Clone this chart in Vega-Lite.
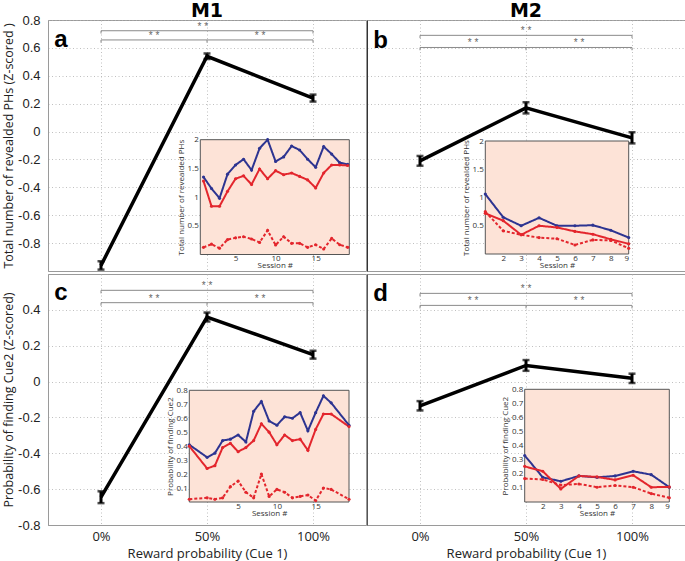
{
  "$schema": "https://vega.github.io/schema/vega-lite/v6.json",
  "padding": {"left": 2, "top": 1, "right": 0, "bottom": 0},
  "spacing": 0,
  "config": {
    "view": {"stroke": "#9a9a9a", "strokeWidth": 1},
    "axis": {"gridColor": "#b0b0b0", "gridDash": [1, 2.5], "gridWidth": 0.8, "domainColor": "#9a9a9a", "labelColor": "#222", "titleColor": "#222", "titleFontWeight": "normal", "labelOverlap": false, "minExtent": 0, "tickCount": 30}
  },
  "datasets": {
    "main": [
      {"panel": "a", "pct": 0, "val": -0.96, "err": 0.03},
      {"panel": "a", "pct": 50, "val": 0.54, "err": 0.02},
      {"panel": "a", "pct": 100, "val": 0.24, "err": 0.025},
      {"panel": "b", "pct": 0, "val": -0.21, "err": 0.035},
      {"panel": "b", "pct": 50, "val": 0.17, "err": 0.04},
      {"panel": "b", "pct": 100, "val": -0.045, "err": 0.04},
      {"panel": "c", "pct": 0, "val": -0.645, "err": 0.033},
      {"panel": "c", "pct": 50, "val": 0.36, "err": 0.025},
      {"panel": "c", "pct": 100, "val": 0.15, "err": 0.022},
      {"panel": "d", "pct": 0, "val": -0.135, "err": 0.026},
      {"panel": "d", "pct": 50, "val": 0.09, "err": 0.03},
      {"panel": "d", "pct": 100, "val": 0.018, "err": 0.026}
    ],
    "brackets": [
      {"panel": "a", "x1": 0, "x2": 100, "y": 0.723, "lx": 48, "lab": "* *"},
      {"panel": "a", "x1": 0, "x2": 50, "y": 0.657, "lx": 25, "lab": "* *"},
      {"panel": "a", "x1": 50, "x2": 100, "y": 0.657, "lx": 75, "lab": "* *"},
      {"panel": "b", "x1": 0, "x2": 100, "y": 0.69, "lx": 50, "lab": "* *"},
      {"panel": "b", "x1": 0, "x2": 50, "y": 0.603, "lx": 25, "lab": "* *"},
      {"panel": "b", "x1": 50, "x2": 100, "y": 0.603, "lx": 75, "lab": "* *"},
      {"panel": "c", "x1": 0, "x2": 100, "y": 0.509, "lx": 50, "lab": "* *"},
      {"panel": "c", "x1": 0, "x2": 50, "y": 0.44, "lx": 25, "lab": "* *"},
      {"panel": "c", "x1": 50, "x2": 100, "y": 0.44, "lx": 75, "lab": "* *"},
      {"panel": "d", "x1": 0, "x2": 100, "y": 0.492, "lx": 50, "lab": "* *"},
      {"panel": "d", "x1": 0, "x2": 50, "y": 0.425, "lx": 25, "lab": "* *"},
      {"panel": "d", "x1": 50, "x2": 100, "y": 0.425, "lx": 75, "lab": "* *"}
    ],
    "bticks": [
      {"panel": "a", "x": 0, "y": 0.723, "y2": 0.703},
      {"panel": "a", "x": 100, "y": 0.723, "y2": 0.703},
      {"panel": "a", "x": 0, "y": 0.657, "y2": 0.637},
      {"panel": "a", "x": 50, "y": 0.657, "y2": 0.637},
      {"panel": "a", "x": 100, "y": 0.657, "y2": 0.637},
      {"panel": "b", "x": 0, "y": 0.69, "y2": 0.67},
      {"panel": "b", "x": 100, "y": 0.69, "y2": 0.67},
      {"panel": "b", "x": 0, "y": 0.603, "y2": 0.583},
      {"panel": "b", "x": 50, "y": 0.603, "y2": 0.583},
      {"panel": "b", "x": 100, "y": 0.603, "y2": 0.583},
      {"panel": "c", "x": 0, "y": 0.509, "y2": 0.492},
      {"panel": "c", "x": 100, "y": 0.509, "y2": 0.492},
      {"panel": "c", "x": 0, "y": 0.44, "y2": 0.423},
      {"panel": "c", "x": 50, "y": 0.44, "y2": 0.423},
      {"panel": "c", "x": 100, "y": 0.44, "y2": 0.423},
      {"panel": "d", "x": 0, "y": 0.492, "y2": 0.475},
      {"panel": "d", "x": 100, "y": 0.492, "y2": 0.475},
      {"panel": "d", "x": 0, "y": 0.425, "y2": 0.408},
      {"panel": "d", "x": 50, "y": 0.425, "y2": 0.408},
      {"panel": "d", "x": 100, "y": 0.425, "y2": 0.408}
    ],
    "labels": [
      {"panel": "a", "kind": "letter", "x": -22, "y": 0.605, "txt": "a"},
      {"panel": "b", "kind": "letter", "x": -22, "y": 0.6, "txt": "b"},
      {"panel": "c", "kind": "letter", "x": -22, "y": 0.453, "txt": "c"},
      {"panel": "d", "kind": "letter", "x": -22, "y": 0.447, "txt": "d"},
      {"panel": "a", "kind": "title", "x": 50, "y": 0.819, "txt": "M1"},
      {"panel": "b", "kind": "title", "x": 50, "y": 0.819, "txt": "M2"}
    ],
    "insets": [
      {"panel": "a", "series": "blue", "s": 1, "v": 1.35}, {"panel": "a", "series": "blue", "s": 2, "v": 1.15}, {"panel": "a", "series": "blue", "s": 3, "v": 0.98}, {"panel": "a", "series": "blue", "s": 4, "v": 1.4}, {"panel": "a", "series": "blue", "s": 5, "v": 1.56}, {"panel": "a", "series": "blue", "s": 6, "v": 1.66}, {"panel": "a", "series": "blue", "s": 7, "v": 1.47}, {"panel": "a", "series": "blue", "s": 8, "v": 1.85}, {"panel": "a", "series": "blue", "s": 9, "v": 2.0}, {"panel": "a", "series": "blue", "s": 10, "v": 1.62}, {"panel": "a", "series": "blue", "s": 11, "v": 1.7}, {"panel": "a", "series": "blue", "s": 12, "v": 1.89}, {"panel": "a", "series": "blue", "s": 13, "v": 1.82}, {"panel": "a", "series": "blue", "s": 14, "v": 1.66}, {"panel": "a", "series": "blue", "s": 15, "v": 1.52}, {"panel": "a", "series": "blue", "s": 16, "v": 1.88}, {"panel": "a", "series": "blue", "s": 17, "v": 1.75}, {"panel": "a", "series": "blue", "s": 18, "v": 1.6}, {"panel": "a", "series": "blue", "s": 19, "v": 1.57},
      {"panel": "a", "series": "red", "s": 1, "v": 1.28}, {"panel": "a", "series": "red", "s": 2, "v": 0.84}, {"panel": "a", "series": "red", "s": 3, "v": 0.84}, {"panel": "a", "series": "red", "s": 4, "v": 1.1}, {"panel": "a", "series": "red", "s": 5, "v": 1.32}, {"panel": "a", "series": "red", "s": 6, "v": 1.37}, {"panel": "a", "series": "red", "s": 7, "v": 1.22}, {"panel": "a", "series": "red", "s": 8, "v": 1.49}, {"panel": "a", "series": "red", "s": 9, "v": 1.32}, {"panel": "a", "series": "red", "s": 10, "v": 1.46}, {"panel": "a", "series": "red", "s": 11, "v": 1.39}, {"panel": "a", "series": "red", "s": 12, "v": 1.42}, {"panel": "a", "series": "red", "s": 13, "v": 1.36}, {"panel": "a", "series": "red", "s": 14, "v": 1.3}, {"panel": "a", "series": "red", "s": 15, "v": 1.16}, {"panel": "a", "series": "red", "s": 16, "v": 1.42}, {"panel": "a", "series": "red", "s": 17, "v": 1.56}, {"panel": "a", "series": "red", "s": 18, "v": 1.56}, {"panel": "a", "series": "red", "s": 19, "v": 1.55},
      {"panel": "a", "series": "dot", "s": 1, "v": 0.125}, {"panel": "a", "series": "dot", "s": 2, "v": 0.18}, {"panel": "a", "series": "dot", "s": 3, "v": 0.11}, {"panel": "a", "series": "dot", "s": 4, "v": 0.26}, {"panel": "a", "series": "dot", "s": 5, "v": 0.29}, {"panel": "a", "series": "dot", "s": 6, "v": 0.31}, {"panel": "a", "series": "dot", "s": 7, "v": 0.27}, {"panel": "a", "series": "dot", "s": 8, "v": 0.21}, {"panel": "a", "series": "dot", "s": 9, "v": 0.42}, {"panel": "a", "series": "dot", "s": 10, "v": 0.165}, {"panel": "a", "series": "dot", "s": 11, "v": 0.31}, {"panel": "a", "series": "dot", "s": 12, "v": 0.195}, {"panel": "a", "series": "dot", "s": 13, "v": 0.195}, {"panel": "a", "series": "dot", "s": 14, "v": 0.125}, {"panel": "a", "series": "dot", "s": 15, "v": 0.17}, {"panel": "a", "series": "dot", "s": 16, "v": 0.096}, {"panel": "a", "series": "dot", "s": 17, "v": 0.28}, {"panel": "a", "series": "dot", "s": 18, "v": 0.17}, {"panel": "a", "series": "dot", "s": 19, "v": 0.125},
      {"panel": "b", "series": "blue", "s": 1, "v": 1.06}, {"panel": "b", "series": "blue", "s": 2, "v": 0.65}, {"panel": "b", "series": "blue", "s": 3, "v": 0.5}, {"panel": "b", "series": "blue", "s": 4, "v": 0.64}, {"panel": "b", "series": "blue", "s": 5, "v": 0.5}, {"panel": "b", "series": "blue", "s": 6, "v": 0.5}, {"panel": "b", "series": "blue", "s": 7, "v": 0.51}, {"panel": "b", "series": "blue", "s": 8, "v": 0.42}, {"panel": "b", "series": "blue", "s": 9, "v": 0.29},
      {"panel": "b", "series": "red", "s": 1, "v": 0.72}, {"panel": "b", "series": "red", "s": 2, "v": 0.59}, {"panel": "b", "series": "red", "s": 3, "v": 0.34}, {"panel": "b", "series": "red", "s": 4, "v": 0.5}, {"panel": "b", "series": "red", "s": 5, "v": 0.47}, {"panel": "b", "series": "red", "s": 6, "v": 0.4}, {"panel": "b", "series": "red", "s": 7, "v": 0.35}, {"panel": "b", "series": "red", "s": 8, "v": 0.26}, {"panel": "b", "series": "red", "s": 9, "v": 0.18},
      {"panel": "b", "series": "dot", "s": 1, "v": 0.75}, {"panel": "b", "series": "dot", "s": 2, "v": 0.41}, {"panel": "b", "series": "dot", "s": 3, "v": 0.34}, {"panel": "b", "series": "dot", "s": 4, "v": 0.29}, {"panel": "b", "series": "dot", "s": 5, "v": 0.27}, {"panel": "b", "series": "dot", "s": 6, "v": 0.16}, {"panel": "b", "series": "dot", "s": 7, "v": 0.25}, {"panel": "b", "series": "dot", "s": 8, "v": 0.24}, {"panel": "b", "series": "dot", "s": 9, "v": 0.1},
      {"panel": "c", "series": "blue", "s": -1.3, "v": 0.41}, {"panel": "c", "series": "blue", "s": 1, "v": 0.32}, {"panel": "c", "series": "blue", "s": 2, "v": 0.35}, {"panel": "c", "series": "blue", "s": 3, "v": 0.44}, {"panel": "c", "series": "blue", "s": 4, "v": 0.45}, {"panel": "c", "series": "blue", "s": 5, "v": 0.48}, {"panel": "c", "series": "blue", "s": 6, "v": 0.43}, {"panel": "c", "series": "blue", "s": 7, "v": 0.65}, {"panel": "c", "series": "blue", "s": 8, "v": 0.72}, {"panel": "c", "series": "blue", "s": 9, "v": 0.58}, {"panel": "c", "series": "blue", "s": 10, "v": 0.55}, {"panel": "c", "series": "blue", "s": 11, "v": 0.61}, {"panel": "c", "series": "blue", "s": 12, "v": 0.6}, {"panel": "c", "series": "blue", "s": 13, "v": 0.64}, {"panel": "c", "series": "blue", "s": 14, "v": 0.51}, {"panel": "c", "series": "blue", "s": 15, "v": 0.64}, {"panel": "c", "series": "blue", "s": 16, "v": 0.76}, {"panel": "c", "series": "blue", "s": 17, "v": 0.71}, {"panel": "c", "series": "blue", "s": 19.3, "v": 0.55},
      {"panel": "c", "series": "red", "s": -1.3, "v": 0.4}, {"panel": "c", "series": "red", "s": 1, "v": 0.24}, {"panel": "c", "series": "red", "s": 2, "v": 0.26}, {"panel": "c", "series": "red", "s": 3, "v": 0.39}, {"panel": "c", "series": "red", "s": 4, "v": 0.42}, {"panel": "c", "series": "red", "s": 5, "v": 0.36}, {"panel": "c", "series": "red", "s": 6, "v": 0.39}, {"panel": "c", "series": "red", "s": 7, "v": 0.44}, {"panel": "c", "series": "red", "s": 8, "v": 0.56}, {"panel": "c", "series": "red", "s": 9, "v": 0.5}, {"panel": "c", "series": "red", "s": 10, "v": 0.41}, {"panel": "c", "series": "red", "s": 11, "v": 0.48}, {"panel": "c", "series": "red", "s": 12, "v": 0.44}, {"panel": "c", "series": "red", "s": 13, "v": 0.45}, {"panel": "c", "series": "red", "s": 14, "v": 0.37}, {"panel": "c", "series": "red", "s": 15, "v": 0.52}, {"panel": "c", "series": "red", "s": 16, "v": 0.63}, {"panel": "c", "series": "red", "s": 17, "v": 0.63}, {"panel": "c", "series": "red", "s": 19.3, "v": 0.54},
      {"panel": "c", "series": "dot", "s": -1.3, "v": 0.02}, {"panel": "c", "series": "dot", "s": 1, "v": 0.03}, {"panel": "c", "series": "dot", "s": 2, "v": 0.02}, {"panel": "c", "series": "dot", "s": 3, "v": 0.03}, {"panel": "c", "series": "dot", "s": 4, "v": 0.11}, {"panel": "c", "series": "dot", "s": 5, "v": 0.15}, {"panel": "c", "series": "dot", "s": 6, "v": 0.07}, {"panel": "c", "series": "dot", "s": 7, "v": 0.03}, {"panel": "c", "series": "dot", "s": 8, "v": 0.2}, {"panel": "c", "series": "dot", "s": 9, "v": 0.04}, {"panel": "c", "series": "dot", "s": 10, "v": 0.09}, {"panel": "c", "series": "dot", "s": 11, "v": 0.07}, {"panel": "c", "series": "dot", "s": 12, "v": 0.03}, {"panel": "c", "series": "dot", "s": 13, "v": 0.04}, {"panel": "c", "series": "dot", "s": 14, "v": 0.05}, {"panel": "c", "series": "dot", "s": 15, "v": 0.01}, {"panel": "c", "series": "dot", "s": 16, "v": 0.1}, {"panel": "c", "series": "dot", "s": 17, "v": 0.09}, {"panel": "c", "series": "dot", "s": 19.3, "v": 0.02},
      {"panel": "d", "series": "blue", "s": 1, "v": 0.33}, {"panel": "d", "series": "blue", "s": 2, "v": 0.175}, {"panel": "d", "series": "blue", "s": 3, "v": 0.147}, {"panel": "d", "series": "blue", "s": 4, "v": 0.185}, {"panel": "d", "series": "blue", "s": 5, "v": 0.175}, {"panel": "d", "series": "blue", "s": 6, "v": 0.185}, {"panel": "d", "series": "blue", "s": 7, "v": 0.218}, {"panel": "d", "series": "blue", "s": 8, "v": 0.194}, {"panel": "d", "series": "blue", "s": 9, "v": 0.105},
      {"panel": "d", "series": "red", "s": 1, "v": 0.253}, {"panel": "d", "series": "red", "s": 2, "v": 0.218}, {"panel": "d", "series": "red", "s": 3, "v": 0.093}, {"panel": "d", "series": "red", "s": 4, "v": 0.185}, {"panel": "d", "series": "red", "s": 5, "v": 0.178}, {"panel": "d", "series": "red", "s": 6, "v": 0.157}, {"panel": "d", "series": "red", "s": 7, "v": 0.19}, {"panel": "d", "series": "red", "s": 8, "v": 0.105}, {"panel": "d", "series": "red", "s": 9, "v": 0.107},
      {"panel": "d", "series": "dot", "s": 1, "v": 0.166}, {"panel": "d", "series": "dot", "s": 2, "v": 0.16}, {"panel": "d", "series": "dot", "s": 3, "v": 0.12}, {"panel": "d", "series": "dot", "s": 4, "v": 0.128}, {"panel": "d", "series": "dot", "s": 5, "v": 0.105}, {"panel": "d", "series": "dot", "s": 6, "v": 0.117}, {"panel": "d", "series": "dot", "s": 7, "v": 0.105}, {"panel": "d", "series": "dot", "s": 8, "v": 0.06}, {"panel": "d", "series": "dot", "s": 9, "v": 0.03}
    ]
  },
  "vconcat": [
    {
      "spacing": -3,
      "hconcat": [
        {
          "width": 318, "height": 251,
          "resolve": {"scale": {"x": "independent", "y": "independent"}, "axis": {"x": "independent", "y": "independent"}},
          "layer": [
            {
              "layer": [
                {"data": {"name": "main"}, "transform": [{"filter": "datum.panel == 'a'"}],
                 "mark": {"type": "line", "color": "black", "strokeWidth": 3.5},
                 "encoding": {
                   "x": {"field": "pct", "type": "quantitative", "scale": {"domain": [-25, 125], "nice": false, "zero": false},
                         "axis": {"values": [0, 50, 100], "tickCount": 30, "labels": false, "ticks": false, "domain": false, "title": null, "grid": true, "minExtent": 0}},
                   "y": {"field": "val", "type": "quantitative", "title": "Total number of revealded PHs (Z-scored )", "scale": {"domain": [-1, 0.8], "nice": false, "zero": false},
                         "axis": {"values": [-0.8, -0.6, -0.4, -0.2, 0, 0.2, 0.4, 0.6, 0.8], "tickCount": 30, "labelOverlap": false, "labelExpr": "datum.value == 0 ? '0' : (datum.value < 0 ? '-' : '') + format(abs(datum.value), '.1f')", "labelFont": "Liberation Sans", "labelFontSize": 13, "labelPadding": 8, "ticks": false, "titleFont": "Open Sans", "titleFontSize": 12.5, "titlePadding": 2, "grid": true, "minExtent": 0}}
                 }},
                {"data": {"name": "main"}, "transform": [{"filter": "datum.panel == 'a'"}],
                 "mark": {"type": "errorbar", "color": "black", "thickness": 3, "ticks": {"size": 7, "thickness": 2.5, "color": "black"}},
                 "encoding": {"x": {"field": "pct", "type": "quantitative"}, "y": {"field": "val", "type": "quantitative", "title": "Total number of revealded PHs (Z-scored )"}, "yError": {"field": "err"}}},
                {"data": {"name": "brackets"}, "transform": [{"filter": "datum.panel == 'a'"}],
                 "mark": {"type": "rule", "color": "#8a8a8a", "strokeWidth": 1},
                 "encoding": {"x": {"field": "x1", "type": "quantitative"}, "x2": {"field": "x2"}, "y": {"field": "y", "type": "quantitative"}}},
                {"data": {"name": "bticks"}, "transform": [{"filter": "datum.panel == 'a'"}],
                 "mark": {"type": "rule", "color": "#8a8a8a", "strokeWidth": 1},
                 "encoding": {"x": {"field": "x", "type": "quantitative"}, "y": {"field": "y", "type": "quantitative"}, "y2": {"field": "y2"}}},
                {"data": {"name": "brackets"}, "transform": [{"filter": "datum.panel == 'a'"}],
                 "mark": {"type": "text", "color": "#666", "fontSize": 10, "baseline": "bottom", "dy": 1, "font": "Liberation Sans"},
                 "encoding": {"x": {"field": "lx", "type": "quantitative"}, "y": {"field": "y", "type": "quantitative"}, "text": {"field": "lab"}}},
                {"data": {"name": "labels"}, "transform": [{"filter": "datum.panel == 'a' && datum.kind == 'letter'"}],
                 "mark": {"type": "text", "fontSize": 24, "fontWeight": "bold", "font": "Liberation Sans", "align": "left", "baseline": "alphabetic", "color": "black"},
                 "encoding": {"x": {"field": "x", "type": "quantitative"}, "y": {"field": "y", "type": "quantitative"}, "text": {"field": "txt"}}},
                {"data": {"name": "labels"}, "transform": [{"filter": "datum.panel == 'a' && datum.kind == 'title'"}],
                 "mark": {"type": "text", "fontSize": 19, "fontWeight": "bold", "font": "DejaVu Sans", "align": "center", "baseline": "alphabetic", "color": "black"},
                 "encoding": {"x": {"field": "x", "type": "quantitative"}, "y": {"field": "y", "type": "quantitative"}, "text": {"field": "txt"}}}
              ]
            },
            {
              "layer": [
                {"data": {"values": [{}]},
                 "mark": {"type": "rect", "fill": "#fde3d7", "stroke": "#555", "strokeWidth": 1},
                 "encoding": {
                   "x": {"datum": 0.6, "type": "quantitative", "scale": {"domain": [0.6, 19.2], "range": [152.3, 301.3], "nice": false, "zero": false},
                         "axis": {"orient": "bottom", "offset": -16.5, "values": [5, 10, 15], "tickCount": 30, "labelExpr": "format(datum.value, '~g')", "labelFont": "Open Sans", "labelFontSize": 8, "labelColor": "#333", "labelPadding": 0, "ticks": false, "domain": false, "grid": false, "title": "Session #", "titleFont": "Open Sans", "titleFontSize": 8, "titleColor": "#333", "titlePadding": -1, "zindex": 1, "minExtent": 0}},
                   "x2": {"datum": 19.2},
                   "y": {"datum": 0, "type": "quantitative", "scale": {"domain": [0, 2], "range": [234.5, 119.7], "nice": false, "zero": false},
                         "axis": {"orient": "left", "offset": -152.3, "values": [0.5, 1, 1.5, 2], "tickCount": 30, "labelExpr": "format(datum.value, '~g')", "labelFont": "Open Sans", "labelFontSize": 8, "labelColor": "#333", "labelPadding": 2, "ticks": false, "domain": false, "grid": false, "title": "Total number of revealded PHs", "titleFont": "Open Sans", "titleFontSize": 8, "titleColor": "#333", "titlePadding": 2, "zindex": 1, "minExtent": 0}},
                   "y2": {"datum": 2}
                 }},
                {"data": {"name": "insets"}, "transform": [{"filter": "datum.panel == 'a'"}],
                 "mark": {"type": "line", "strokeWidth": 2, "point": {"filled": true, "size": 10}},
                 "encoding": {
                   "x": {"field": "s", "type": "quantitative"},
                   "y": {"field": "v", "type": "quantitative"},
                   "color": {"field": "series", "type": "nominal", "scale": {"domain": ["blue", "red", "dot"], "range": ["#2d3491", "#e3262d", "#e3262d"]}, "legend": null},
                   "strokeDash": {"field": "series", "type": "nominal", "scale": {"domain": ["blue", "red", "dot"], "range": [[1, 0], [1, 0], [3, 2]]}, "legend": null}
                 }}
              ]
            }
          ]
        },
        {
          "width": 318, "height": 251,
          "resolve": {"scale": {"x": "independent", "y": "independent"}, "axis": {"x": "independent", "y": "independent"}},
          "layer": [
            {
              "layer": [
                {"data": {"name": "main"}, "transform": [{"filter": "datum.panel == 'b'"}],
                 "mark": {"type": "line", "color": "black", "strokeWidth": 3.5},
                 "encoding": {
                   "x": {"field": "pct", "type": "quantitative", "scale": {"domain": [-25, 125], "nice": false, "zero": false},
                         "axis": {"values": [0, 50, 100], "tickCount": 30, "labels": false, "ticks": false, "domain": false, "title": null, "grid": true, "minExtent": 0}},
                   "y": {"field": "val", "type": "quantitative", "scale": {"domain": [-1, 0.8], "nice": false, "zero": false},
                         "axis": {"values": [-0.8, -0.6, -0.4, -0.2, 0, 0.2, 0.4, 0.6, 0.8], "tickCount": 30, "labels": false, "ticks": false, "title": null, "domain": true, "domainColor": "#333", "grid": true, "minExtent": 0}}
                 }},
                {"data": {"name": "main"}, "transform": [{"filter": "datum.panel == 'b'"}],
                 "mark": {"type": "errorbar", "color": "black", "thickness": 3, "ticks": {"size": 7, "thickness": 2.5, "color": "black"}},
                 "encoding": {"x": {"field": "pct", "type": "quantitative"}, "y": {"field": "val", "type": "quantitative"}, "yError": {"field": "err"}}},
                {"data": {"name": "brackets"}, "transform": [{"filter": "datum.panel == 'b'"}],
                 "mark": {"type": "rule", "color": "#8a8a8a", "strokeWidth": 1},
                 "encoding": {"x": {"field": "x1", "type": "quantitative"}, "x2": {"field": "x2"}, "y": {"field": "y", "type": "quantitative"}}},
                {"data": {"name": "bticks"}, "transform": [{"filter": "datum.panel == 'b'"}],
                 "mark": {"type": "rule", "color": "#8a8a8a", "strokeWidth": 1},
                 "encoding": {"x": {"field": "x", "type": "quantitative"}, "y": {"field": "y", "type": "quantitative"}, "y2": {"field": "y2"}}},
                {"data": {"name": "brackets"}, "transform": [{"filter": "datum.panel == 'b'"}],
                 "mark": {"type": "text", "color": "#666", "fontSize": 10, "baseline": "bottom", "dy": 1, "font": "Liberation Sans"},
                 "encoding": {"x": {"field": "lx", "type": "quantitative"}, "y": {"field": "y", "type": "quantitative"}, "text": {"field": "lab"}}},
                {"data": {"name": "labels"}, "transform": [{"filter": "datum.panel == 'b' && datum.kind == 'letter'"}],
                 "mark": {"type": "text", "fontSize": 24, "fontWeight": "bold", "font": "Liberation Sans", "align": "left", "baseline": "alphabetic", "color": "black"},
                 "encoding": {"x": {"field": "x", "type": "quantitative"}, "y": {"field": "y", "type": "quantitative"}, "text": {"field": "txt"}}},
                {"data": {"name": "labels"}, "transform": [{"filter": "datum.panel == 'b' && datum.kind == 'title'"}],
                 "mark": {"type": "text", "fontSize": 19, "fontWeight": "bold", "font": "DejaVu Sans", "align": "center", "baseline": "alphabetic", "color": "black"},
                 "encoding": {"x": {"field": "x", "type": "quantitative"}, "y": {"field": "y", "type": "quantitative"}, "text": {"field": "txt"}}}
              ]
            },
            {
              "layer": [
                {"data": {"values": [{}]},
                 "mark": {"type": "rect", "fill": "#fde3d7", "stroke": "#555", "strokeWidth": 1},
                 "encoding": {
                   "x": {"datum": 1, "type": "quantitative", "scale": {"domain": [1, 9], "range": [118.3, 261.7], "nice": false, "zero": false},
                         "axis": {"orient": "bottom", "offset": -17, "values": [2, 3, 4, 5, 6, 7, 8, 9], "tickCount": 30, "labelExpr": "format(datum.value, '~g')", "labelFont": "Open Sans", "labelFontSize": 8, "labelColor": "#333", "labelPadding": 0, "ticks": false, "domain": false, "grid": false, "title": "Session #", "titleFont": "Open Sans", "titleFontSize": 8, "titleColor": "#333", "titlePadding": -1, "zindex": 1, "minExtent": 0}},
                   "x2": {"datum": 9},
                   "y": {"datum": 0, "type": "quantitative", "scale": {"domain": [0, 2], "range": [234, 121], "nice": false, "zero": false},
                         "axis": {"orient": "left", "offset": -118.3, "values": [0.5, 1, 1.5, 2], "tickCount": 30, "labelExpr": "format(datum.value, '~g')", "labelFont": "Open Sans", "labelFontSize": 8, "labelColor": "#333", "labelPadding": 2, "ticks": false, "domain": false, "grid": false, "title": "Total number of revealded PHs", "titleFont": "Open Sans", "titleFontSize": 8, "titleColor": "#333", "titlePadding": 2, "zindex": 1, "minExtent": 0}},
                   "y2": {"datum": 2}
                 }},
                {"data": {"name": "insets"}, "transform": [{"filter": "datum.panel == 'b'"}],
                 "mark": {"type": "line", "strokeWidth": 2, "point": {"filled": true, "size": 10}},
                 "encoding": {
                   "x": {"field": "s", "type": "quantitative"},
                   "y": {"field": "v", "type": "quantitative"},
                   "color": {"field": "series", "type": "nominal", "scale": {"domain": ["blue", "red", "dot"], "range": ["#2d3491", "#e3262d", "#e3262d"]}, "legend": null},
                   "strokeDash": {"field": "series", "type": "nominal", "scale": {"domain": ["blue", "red", "dot"], "range": [[1, 0], [1, 0], [3, 2]]}, "legend": null}
                 }}
              ]
            }
          ]
        }
      ]
    },
    {
      "spacing": -3,
      "hconcat": [
        {
          "width": 318, "height": 251,
          "resolve": {"scale": {"x": "independent", "y": "independent"}, "axis": {"x": "independent", "y": "independent"}},
          "layer": [
            {
              "layer": [
                {"data": {"name": "main"}, "transform": [{"filter": "datum.panel == 'c'"}],
                 "mark": {"type": "line", "color": "black", "strokeWidth": 3.5},
                 "encoding": {
                   "x": {"field": "pct", "type": "quantitative", "title": "Reward probability (Cue 1)", "scale": {"domain": [-25, 125], "nice": false, "zero": false},
                         "axis": {"values": [0, 50, 100], "tickCount": 30, "labelExpr": "datum.value + '%'", "labelFont": "Open Sans", "labelFontSize": 13, "labelPadding": 5, "ticks": false, "domain": true, "titleFont": "Open Sans", "titleFontSize": 13, "titlePadding": 4, "grid": true, "minExtent": 0}},
                   "y": {"field": "val", "type": "quantitative", "title": "Probability of finding Cue2 (Z-scored)", "scale": {"domain": [-0.8, 0.6], "nice": false, "zero": false},
                         "axis": {"values": [-0.8, -0.6, -0.4, -0.2, 0, 0.2, 0.4], "tickCount": 30, "labelOverlap": false, "labelExpr": "datum.value == 0 ? '0' : (datum.value < 0 ? '-' : '') + format(abs(datum.value), '.1f')", "labelFont": "Liberation Sans", "labelFontSize": 13, "labelPadding": 8, "ticks": false, "titleFont": "Open Sans", "titleFontSize": 12.5, "titlePadding": 2, "grid": true, "minExtent": 0}}
                 }},
                {"data": {"name": "main"}, "transform": [{"filter": "datum.panel == 'c'"}],
                 "mark": {"type": "errorbar", "color": "black", "thickness": 3, "ticks": {"size": 7, "thickness": 2.5, "color": "black"}},
                 "encoding": {"x": {"field": "pct", "type": "quantitative", "title": "Reward probability (Cue 1)"}, "y": {"field": "val", "type": "quantitative", "title": "Probability of finding Cue2 (Z-scored)"}, "yError": {"field": "err"}}},
                {"data": {"name": "brackets"}, "transform": [{"filter": "datum.panel == 'c'"}],
                 "mark": {"type": "rule", "color": "#8a8a8a", "strokeWidth": 1},
                 "encoding": {"x": {"field": "x1", "type": "quantitative", "title": "Reward probability (Cue 1)"}, "x2": {"field": "x2"}, "y": {"field": "y", "type": "quantitative", "title": "Probability of finding Cue2 (Z-scored)"}}},
                {"data": {"name": "bticks"}, "transform": [{"filter": "datum.panel == 'c'"}],
                 "mark": {"type": "rule", "color": "#8a8a8a", "strokeWidth": 1},
                 "encoding": {"x": {"field": "x", "type": "quantitative", "title": "Reward probability (Cue 1)"}, "y": {"field": "y", "type": "quantitative", "title": "Probability of finding Cue2 (Z-scored)"}, "y2": {"field": "y2"}}},
                {"data": {"name": "brackets"}, "transform": [{"filter": "datum.panel == 'c'"}],
                 "mark": {"type": "text", "color": "#666", "fontSize": 10, "baseline": "bottom", "dy": 1, "font": "Liberation Sans"},
                 "encoding": {"x": {"field": "lx", "type": "quantitative", "title": "Reward probability (Cue 1)"}, "y": {"field": "y", "type": "quantitative", "title": "Probability of finding Cue2 (Z-scored)"}, "text": {"field": "lab"}}},
                {"data": {"name": "labels"}, "transform": [{"filter": "datum.panel == 'c' && datum.kind == 'letter'"}],
                 "mark": {"type": "text", "fontSize": 24, "fontWeight": "bold", "font": "Liberation Sans", "align": "left", "baseline": "alphabetic", "color": "black"},
                 "encoding": {"x": {"field": "x", "type": "quantitative", "title": "Reward probability (Cue 1)"}, "y": {"field": "y", "type": "quantitative", "title": "Probability of finding Cue2 (Z-scored)"}, "text": {"field": "txt"}}}
              ]
            },
            {
              "layer": [
                {"data": {"values": [{}]},
                 "mark": {"type": "rect", "fill": "#fde3d7", "stroke": "#555", "strokeWidth": 1},
                 "encoding": {
                   "x": {"datum": -1.3, "type": "quantitative", "scale": {"domain": [-1.3, 19.3], "range": [141.3, 301], "nice": false, "zero": false},
                         "axis": {"orient": "bottom", "offset": -23, "values": [5, 10, 15], "tickCount": 30, "labelExpr": "format(datum.value, '~g')", "labelFont": "Open Sans", "labelFontSize": 8, "labelColor": "#333", "labelPadding": 0, "ticks": false, "domain": false, "grid": false, "title": "Session #", "titleFont": "Open Sans", "titleFontSize": 8, "titleColor": "#333", "titlePadding": -1, "zindex": 1, "minExtent": 0}},
                   "x2": {"datum": 19.3},
                   "y": {"datum": 0, "type": "quantitative", "scale": {"domain": [0, 0.8], "range": [228, 116.3], "nice": false, "zero": false},
                         "axis": {"orient": "left", "offset": -141.3, "values": [0.1, 0.2, 0.3, 0.4, 0.5, 0.6, 0.7, 0.8], "tickCount": 30, "labelOverlap": false, "labelExpr": "format(datum.value, '~g')", "labelFont": "Open Sans", "labelFontSize": 8, "labelColor": "#333", "labelPadding": 2, "ticks": false, "domain": false, "grid": false, "title": "Probability of finding Cue2", "titleFont": "Open Sans", "titleFontSize": 8, "titleColor": "#333", "titlePadding": 2, "zindex": 1, "minExtent": 0}},
                   "y2": {"datum": 0.8}
                 }},
                {"data": {"name": "insets"}, "transform": [{"filter": "datum.panel == 'c'"}],
                 "mark": {"type": "line", "strokeWidth": 2, "point": {"filled": true, "size": 10}},
                 "encoding": {
                   "x": {"field": "s", "type": "quantitative"},
                   "y": {"field": "v", "type": "quantitative"},
                   "color": {"field": "series", "type": "nominal", "scale": {"domain": ["blue", "red", "dot"], "range": ["#2d3491", "#e3262d", "#e3262d"]}, "legend": null},
                   "strokeDash": {"field": "series", "type": "nominal", "scale": {"domain": ["blue", "red", "dot"], "range": [[1, 0], [1, 0], [3, 2]]}, "legend": null}
                 }}
              ]
            }
          ]
        },
        {
          "width": 318, "height": 251,
          "resolve": {"scale": {"x": "independent", "y": "independent"}, "axis": {"x": "independent", "y": "independent"}},
          "layer": [
            {
              "layer": [
                {"data": {"name": "main"}, "transform": [{"filter": "datum.panel == 'd'"}],
                 "mark": {"type": "line", "color": "black", "strokeWidth": 3.5},
                 "encoding": {
                   "x": {"field": "pct", "type": "quantitative", "title": "Reward probability (Cue 1)", "scale": {"domain": [-25, 125], "nice": false, "zero": false},
                         "axis": {"values": [0, 50, 100], "tickCount": 30, "labelExpr": "datum.value + '%'", "labelFont": "Open Sans", "labelFontSize": 13, "labelPadding": 5, "ticks": false, "domain": true, "titleFont": "Open Sans", "titleFontSize": 13, "titlePadding": 4, "grid": true, "minExtent": 0}},
                   "y": {"field": "val", "type": "quantitative", "scale": {"domain": [-0.8, 0.6], "nice": false, "zero": false},
                         "axis": {"values": [-0.8, -0.6, -0.4, -0.2, 0, 0.2, 0.4], "tickCount": 30, "labels": false, "ticks": false, "title": null, "domain": true, "domainColor": "#555", "grid": true, "minExtent": 0}}
                 }},
                {"data": {"name": "main"}, "transform": [{"filter": "datum.panel == 'd'"}],
                 "mark": {"type": "errorbar", "color": "black", "thickness": 3, "ticks": {"size": 7, "thickness": 2.5, "color": "black"}},
                 "encoding": {"x": {"field": "pct", "type": "quantitative", "title": "Reward probability (Cue 1)"}, "y": {"field": "val", "type": "quantitative"}, "yError": {"field": "err"}}},
                {"data": {"name": "brackets"}, "transform": [{"filter": "datum.panel == 'd'"}],
                 "mark": {"type": "rule", "color": "#8a8a8a", "strokeWidth": 1},
                 "encoding": {"x": {"field": "x1", "type": "quantitative", "title": "Reward probability (Cue 1)"}, "x2": {"field": "x2"}, "y": {"field": "y", "type": "quantitative"}}},
                {"data": {"name": "bticks"}, "transform": [{"filter": "datum.panel == 'd'"}],
                 "mark": {"type": "rule", "color": "#8a8a8a", "strokeWidth": 1},
                 "encoding": {"x": {"field": "x", "type": "quantitative", "title": "Reward probability (Cue 1)"}, "y": {"field": "y", "type": "quantitative"}, "y2": {"field": "y2"}}},
                {"data": {"name": "brackets"}, "transform": [{"filter": "datum.panel == 'd'"}],
                 "mark": {"type": "text", "color": "#666", "fontSize": 10, "baseline": "bottom", "dy": 1, "font": "Liberation Sans"},
                 "encoding": {"x": {"field": "lx", "type": "quantitative", "title": "Reward probability (Cue 1)"}, "y": {"field": "y", "type": "quantitative"}, "text": {"field": "lab"}}},
                {"data": {"name": "labels"}, "transform": [{"filter": "datum.panel == 'd' && datum.kind == 'letter'"}],
                 "mark": {"type": "text", "fontSize": 24, "fontWeight": "bold", "font": "Liberation Sans", "align": "left", "baseline": "alphabetic", "color": "black"},
                 "encoding": {"x": {"field": "x", "type": "quantitative", "title": "Reward probability (Cue 1)"}, "y": {"field": "y", "type": "quantitative"}, "text": {"field": "txt"}}}
              ]
            },
            {
              "layer": [
                {"data": {"values": [{}]},
                 "mark": {"type": "rect", "fill": "#fde3d7", "stroke": "#555", "strokeWidth": 1},
                 "encoding": {
                   "x": {"datum": 1, "type": "quantitative", "scale": {"domain": [1, 9], "range": [157.7, 302.3], "nice": false, "zero": false},
                         "axis": {"orient": "bottom", "offset": -23, "values": [2, 3, 4, 5, 6, 7, 8, 9], "tickCount": 30, "labelExpr": "format(datum.value, '~g')", "labelFont": "Open Sans", "labelFontSize": 8, "labelColor": "#333", "labelPadding": 0, "ticks": false, "domain": false, "grid": false, "title": "Session #", "titleFont": "Open Sans", "titleFontSize": 8, "titleColor": "#333", "titlePadding": -1, "zindex": 1, "minExtent": 0}},
                   "x2": {"datum": 9},
                   "y": {"datum": 0, "type": "quantitative", "scale": {"domain": [0, 0.8], "range": [228, 115.3], "nice": false, "zero": false},
                         "axis": {"orient": "left", "offset": -157.7, "values": [0.1, 0.2, 0.3, 0.4, 0.5, 0.6, 0.7, 0.8], "tickCount": 30, "labelOverlap": false, "labelExpr": "format(datum.value, '~g')", "labelFont": "Open Sans", "labelFontSize": 8, "labelColor": "#333", "labelPadding": 2, "ticks": false, "domain": false, "grid": false, "title": "Probability of finding Cue2", "titleFont": "Open Sans", "titleFontSize": 8, "titleColor": "#333", "titlePadding": 2, "zindex": 1, "minExtent": 0}},
                   "y2": {"datum": 0.8}
                 }},
                {"data": {"name": "insets"}, "transform": [{"filter": "datum.panel == 'd'"}],
                 "mark": {"type": "line", "strokeWidth": 2, "point": {"filled": true, "size": 10}},
                 "encoding": {
                   "x": {"field": "s", "type": "quantitative"},
                   "y": {"field": "v", "type": "quantitative"},
                   "color": {"field": "series", "type": "nominal", "scale": {"domain": ["blue", "red", "dot"], "range": ["#2d3491", "#e3262d", "#e3262d"]}, "legend": null},
                   "strokeDash": {"field": "series", "type": "nominal", "scale": {"domain": ["blue", "red", "dot"], "range": [[1, 0], [1, 0], [3, 2]]}, "legend": null}
                 }}
              ]
            }
          ]
        }
      ]
    }
  ]
}
